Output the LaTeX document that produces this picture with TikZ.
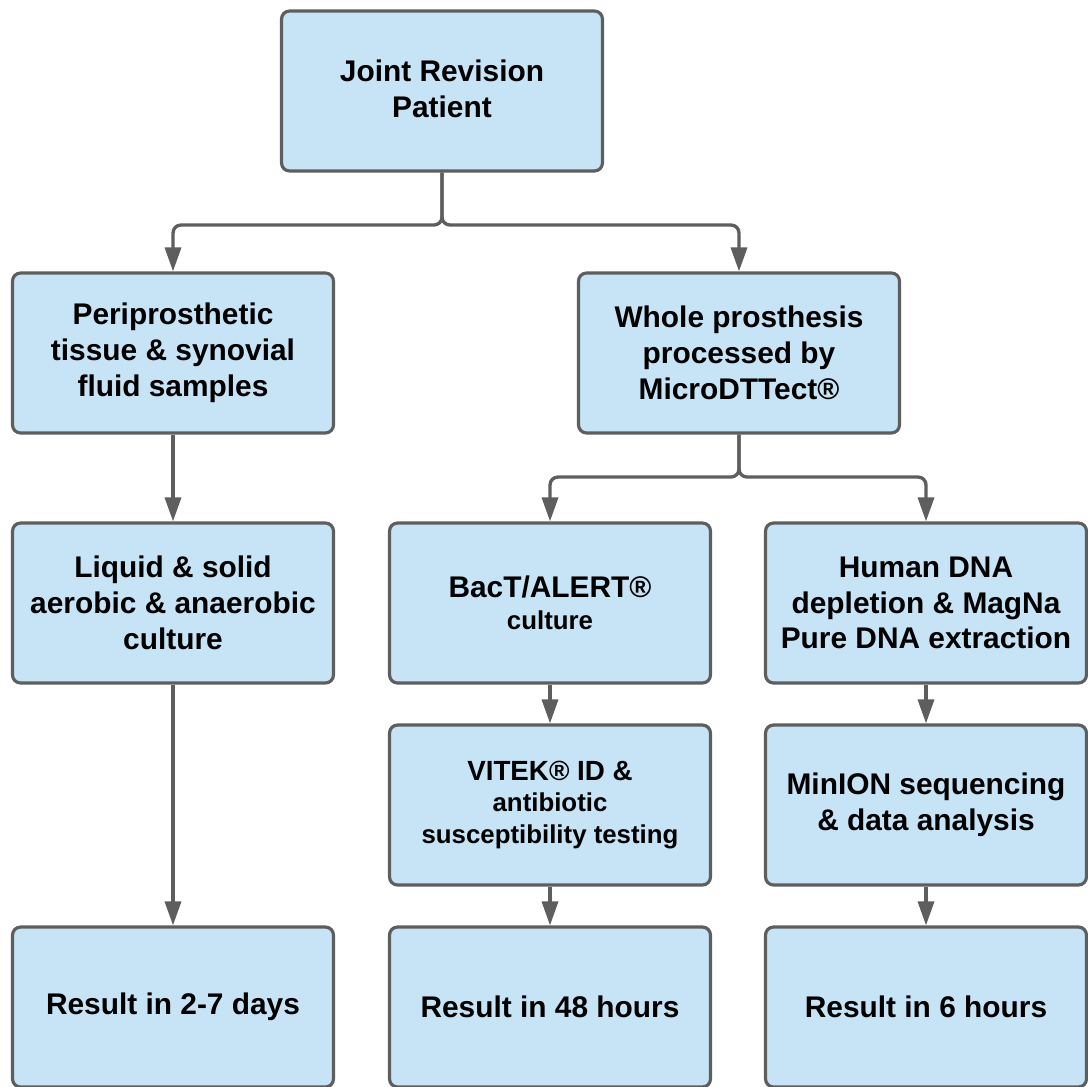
\documentclass[tikz,border=0pt]{standalone}
\usepackage{fontspec}
\setmainfont{Liberation Sans}
\usepackage{xcolor}
\usepackage{tikz}
\usetikzlibrary{arrows.meta}

\definecolor{boxfill}{HTML}{C6E4F6}
\definecolor{boxline}{HTML}{5E5E5E}

\begin{document}
\begin{tikzpicture}[x=0.02cm, y=-0.02cm,
	stage/.style={draw=boxline, fill=boxfill, line width=1.8pt, rounded corners=0.16cm,
		minimum width=6.42cm, minimum height=3.2cm, align=center, inner sep=0pt,
		font=\bfseries\fontsize{17}{20.4}\selectfont},
	flow/.style={draw=boxline, line width=1.9pt, rounded corners=0.16cm,
		-{Triangle[length=0.48cm, width=0.32cm]}}]

\clip (0,0) rectangle (1088,1086);
\useasboundingbox (0,0) rectangle (1088,1086);

% top
\node[stage] (patient) at (442,91) {\raisebox{3pt}{Joint Revision}\\\raisebox{3pt}{Patient}};

% second row
\node[stage] (tissue) at (173,353) {Periprosthetic\\tissue \& synovial\\fluid samples};
\node[stage] (prosthesis) at (739,353) {Whole prosthesis\\processed by\\MicroDTTect®};

% third row
\node[stage] (aerobic) at (173,603) {Liquid \& solid\\aerobic \& anaerobic\\culture};
\node[stage] (bact) at (550,603) {BacT/ALERT®\\[-2pt]{\fontsize{14.7}{18}\selectfont culture}};
\node[stage] (depletion) at (926,603) {Human DNA\\depletion \& MagNa\\Pure DNA extraction};

% fourth row
\node[stage, font=\bfseries\fontsize{14.7}{18.1}\selectfont] (vitek) at (550,805)
	{{\fontsize{15.8}{18.1}\selectfont VITEK® ID \&}\\antibiotic\\susceptibility testing};
\node[stage] (minion) at (926,805) {MinION sequencing\\\& data analysis};

% results
\node[stage] (res1) at (173,1007) {\raisebox{-1pt}{Result in 2-7 days}};
\node[stage] (res2) at (550,1007) {Result in 48 hours};
\node[stage] (res3) at (926,1007) {Result in 6 hours};

% splits
\coordinate (split1) at (442,225);
\coordinate (split2) at (739,477);

\draw[flow] (patient.south) -- (split1) -| (tissue.north);
\draw[flow] (patient.south) -- (split1) -| (prosthesis.north);
\draw[flow] (prosthesis.south) -- (split2) -| (bact.north);
\draw[flow] (prosthesis.south) -- (split2) -| (depletion.north);

\draw[flow] (tissue) -- (aerobic);
\draw[flow] (aerobic) -- (res1);
\draw[flow] (bact) -- (vitek);
\draw[flow] (vitek) -- (res2);
\draw[flow] (depletion) -- (minion);
\draw[flow] (minion) -- (res3);

\end{tikzpicture}
\end{document}
